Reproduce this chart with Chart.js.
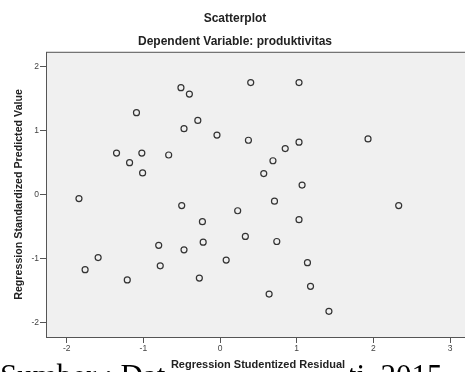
<!DOCTYPE html>
<html>
<head>
<meta charset="utf-8">
<script src="https://cdn.jsdelivr.net/npm/chart.js@4/dist/chart.umd.min.js"></script>
<style>
  html, body { margin: 0; padding: 0; background: #fff; overflow: hidden; }
  #wrap { width: 480px; height: 372px; }
</style>
</head>
<body>
<div id="wrap"><canvas id="plot" width="480" height="372"></canvas></div>
<script>
// data (studentized residual, standardized predicted value)
const residual = [
  -0.51, -0.40, -1.09, -0.29, -0.47, -0.04, -1.35, -1.02, -0.67, -1.18, -1.01, -1.84,
  0.40, 1.03, 0.37, 1.93, 1.03, 0.85, 0.69, 0.57, 1.07,
  -0.50, -0.23, 0.23, -0.80, -0.22, -0.47, -1.59, -1.76, -0.78, 0.08, -1.21, -0.27,
  0.71, 2.33, 1.03, 0.33, 0.74, 1.14, 0.64, 1.18, 1.42
];
const predicted = [
  1.67, 1.57, 1.28, 1.16, 1.03, 0.93, 0.65, 0.65, 0.62, 0.50, 0.34, -0.06,
  1.75, 1.75, 0.85, 0.87, 0.82, 0.72, 0.53, 0.33, 0.15,
  -0.17, -0.42, -0.25, -0.79, -0.74, -0.86, -0.98, -1.17, -1.11, -1.02, -1.33, -1.30,
  -0.10, -0.17, -0.39, -0.65, -0.73, -1.06, -1.55, -1.43, -1.82
];
const xTicks = [-2, -1, 0, 1, 2, 3];
const yTicks = [-2, -1, 0, 1, 2];

const points = residual.map((x, i) => ({ x: x, y: predicted[i] }));

const sansFont = '"Liberation Sans", Arial, sans-serif';

// background, plot frame and the caption under the chart
const framePlugin = {
  id: 'frame',
  beforeDraw(chart) {
    const c = chart.ctx;
    const a = chart.chartArea;
    c.save();
    c.fillStyle = '#ffffff';
    c.fillRect(0, 0, chart.width, chart.height);
    c.fillStyle = '#000000';
    c.font = '31px "Liberation Serif", "Times New Roman", serif';
    c.textBaseline = 'alphabetic';
    c.fillText('Sumber : Data diolah peneliti, 2015', 0, 386);
    c.fillStyle = '#ffffff';
    c.fillRect(167, 358, 183, 14);
    c.fillStyle = '#f0f0f0';
    c.fillRect(a.left, a.top, a.right - a.left, a.bottom - a.top);
    c.restore();
  },
  afterDraw(chart) {
    const c = chart.ctx;
    const a = chart.chartArea;
    c.save();
    c.strokeStyle = '#555555';
    c.lineWidth = 1;
    c.strokeRect(a.left + 0.5, a.top + 0.5, a.right - a.left, a.bottom - a.top);
    c.restore();
  }
};

new Chart(document.getElementById('plot'), {
  type: 'scatter',
  data: {
    datasets: [{
      label: 'produktivitas',
      data: points,
      pointRadius: 3,
      pointHoverRadius: 3,
      pointBorderWidth: 1.2,
      pointBorderColor: '#333333',
      pointBackgroundColor: 'rgba(0,0,0,0)'
    }]
  },
  options: {
    responsive: false,
    animation: false,
    layout: { padding: { left: 0, right: 10, top: 0, bottom: 0 } },
    plugins: {
      legend: { display: false },
      tooltip: { enabled: false },
      title: {
        display: true,
        text: 'Scatterplot',
        color: '#222',
        font: { family: sansFont, size: 12, weight: 'bold' },
        padding: { top: 11, bottom: 4 }
      },
      subtitle: {
        display: true,
        text: 'Dependent Variable: produktivitas',
        color: '#222',
        font: { family: sansFont, size: 12, weight: 'bold' },
        padding: { top: 5, bottom: 3 }
      }
    },
    scales: {
      x: {
        type: 'linear',
        min: -2.27,
        max: 3.26,
        afterBuildTicks: (s) => { s.ticks = xTicks.map(v => ({ value: v })); },
        afterFit: (s) => { s.height = 35; },
        grid: { drawOnChartArea: false, drawTicks: true, tickLength: 6, color: '#555' },
        border: { display: false },
        ticks: {
          color: '#444',
          padding: 1,
          font: { family: sansFont, size: 8.5 },
          callback: (v) => String(v)
        },
        title: {
          display: true,
          text: 'Regression Studentized Residual',
          color: '#222',
          font: { family: sansFont, size: 11, weight: 'bold' },
          padding: { top: 0, bottom: 0 }
        }
      },
      y: {
        type: 'linear',
        min: -2.22,
        max: 2.23,
        afterBuildTicks: (s) => { s.ticks = yTicks.map(v => ({ value: v })); },
        afterFit: (s) => { s.width = 46; },
        grid: { drawOnChartArea: false, drawTicks: true, tickLength: 6, color: '#555' },
        border: { display: false },
        ticks: {
          color: '#444',
          padding: 1,
          font: { family: sansFont, size: 8.5 },
          callback: (v) => String(v)
        },
        title: {
          display: true,
          text: 'Regression Standardized Predicted Value',
          color: '#222',
          font: { family: sansFont, size: 10.7, weight: 'bold' },
          padding: { top: 13, bottom: 0 }
        }
      }
    }
  },
  plugins: [framePlugin]
});
</script>
</body>
</html>
